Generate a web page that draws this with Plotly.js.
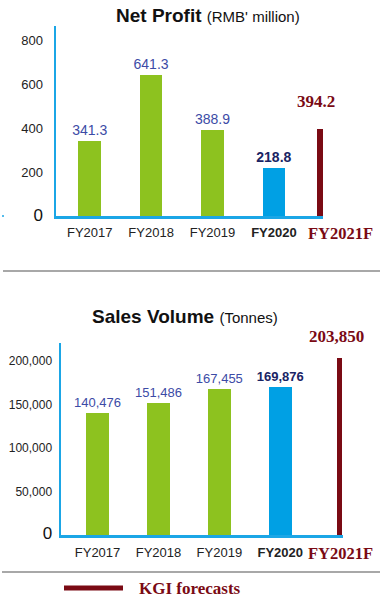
<!DOCTYPE html>
<html>
<head>
<meta charset="utf-8">
<script src="https://cdn.plot.ly/plotly-3.0.1.min.js"></script>
<style>html,body{margin:0;padding:0;background:#fff;}#chart{width:380px;height:607px;}</style>
</head>
<body>
<div id="chart"></div>
<script>
// ---- data ----
var categories = ["FY2017", "FY2018", "FY2019", "FY2020"];
var forecastLabel = "FY2021F";
var netProfit = [341.3, 641.3, 388.9, 218.8];
var netProfitForecast = 394.2;
var salesVolume = [140476, 151486, 167455, 169876];
var salesVolumeForecast = 203850;
var profitTicks = [0, 200, 400, 600, 800];
var volumeTicks = [0, 50000, 100000, 150000, 200000];
var legendText = "KGI forecasts";

// ---- style ----
var GREEN = "#8dc21f", BLUE = "#00a0e4", RED = "#7a0a14", AXIS = "#1ba6e6";
var LBL = "#3c4ba6", LBL_BOLD = "#1a2464";
var SANS = "Liberation Sans, Arial, sans-serif";
var SERIF = "Liberation Serif, Times New Roman, serif";
var W = 380, H = 607;
function px(x) { return x / W; }
function py(y) { return 1 - y / H; }

var xs = categories.map(function (c, i) { return i; });
var highlight = categories.length - 1;
function fmt(v, comma) { return comma ? v.toLocaleString("en-US") : v.toFixed(1); }
function barColors() { return xs.map(function (i) { return i === highlight ? BLUE : GREEN; }); }
function barTexts(vals, comma) {
  return vals.map(function (v, i) { return i === highlight ? "<b>" + fmt(v, comma) + "</b>" : fmt(v, comma); });
}
function textColors() { return xs.map(function (i) { return i === highlight ? LBL_BOLD : LBL; }); }
var tickTexts = categories.map(function (c, i) { return i === highlight ? "<b>" + c + "</b>" : c; });

var topFx = 3.75, botFx = 3.975;

var traces = [
  { type: "bar", x: xs, y: netProfit, width: 0.37, marker: { color: barColors() },
    text: barTexts(netProfit, false), textposition: "outside", cliponaxis: false, constraintext: "none",
    textfont: { family: SANS, size: 14, color: textColors() }, xaxis: "x", yaxis: "y", hoverinfo: "none" },
  { type: "bar", x: [topFx], y: [netProfitForecast], width: 0.085, marker: { color: RED },
    xaxis: "x", yaxis: "y", hoverinfo: "none" },
  { type: "bar", x: xs, y: salesVolume, width: 0.38, marker: { color: barColors() },
    text: barTexts(salesVolume, true), textposition: "outside", cliponaxis: false, constraintext: "none",
    textfont: { family: SANS, size: 13, color: textColors() }, xaxis: "x2", yaxis: "y2", hoverinfo: "none" },
  { type: "bar", x: [botFx], y: [salesVolumeForecast], width: 0.085, marker: { color: RED },
    xaxis: "x2", yaxis: "y2", hoverinfo: "none" }
];

function yTickText(ticks, comma) {
  return ticks.map(function (t) {
    if (t === 0) return "<span style='font-size:17px;color:#111'>0</span>";
    return comma ? t.toLocaleString("en-US") : String(t);
  });
}

var xAxisCommon = { showgrid: false, zeroline: false, showline: true, linecolor: AXIS, linewidth: 2.5,
  ticks: "", tickfont: { family: SANS, size: 13, color: "#222" }, tickvals: xs, ticktext: tickTexts,
  ticklabelstandoff: 3, fixedrange: true };
var yAxisCommon = { showgrid: false, zeroline: false, showline: true, linecolor: AXIS, linewidth: 2.5,
  ticks: "", tickfont: { family: SANS, size: 13, color: "#222" }, fixedrange: true };

var layout = {
  width: W, height: H, margin: { l: 0, r: 0, t: 0, b: 0 },
  paper_bgcolor: "#fff", plot_bgcolor: "#fff", showlegend: false, bargap: 0,
  xaxis: Object.assign({}, xAxisCommon, { domain: [px(56), px(323)], range: [-0.55, 3.8], anchor: "y" }),
  yaxis: Object.assign({}, yAxisCommon, { domain: [py(216), py(26)], range: [0, 864], anchor: "x",
    tickvals: profitTicks, ticktext: yTickText(profitTicks, false), ticklabelstandoff: 8 }),
  xaxis2: Object.assign({}, xAxisCommon, { domain: [px(61), px(343)], range: [-0.6, 4.03], anchor: "y2",
    ticklabelstandoff: 4 }),
  yaxis2: Object.assign({}, yAxisCommon, { domain: [py(535), py(343)], range: [0, 220700], anchor: "x2",
    tickvals: volumeTicks, ticktext: yTickText(volumeTicks, true), tickfont: { family: SANS, size: 12, color: "#222" },
    ticklabelstandoff: 4 }),
  annotations: [
    { xref: "paper", yref: "paper", x: px(208), y: py(16), xanchor: "center", yanchor: "middle", showarrow: false,
      text: "<b>Net Profit</b> <span style='font-size:15px'>(RMB' million)</span>",
      font: { family: SANS, size: 19, color: "#111" } },
    { xref: "paper", yref: "paper", x: px(185), y: py(316), xanchor: "center", yanchor: "middle", showarrow: false,
      text: "<b>Sales Volume</b> <span style='font-size:15px'>(Tonnes)</span>",
      font: { family: SANS, size: 19, color: "#111" } },
    { xref: "x", yref: "y", x: topFx, y: netProfitForecast, xanchor: "center", yanchor: "bottom", yshift: 16, xshift: -4,
      showarrow: false, text: "<b>" + netProfitForecast.toFixed(1) + "</b>", font: { family: SERIF, size: 17, color: RED } },
    { xref: "x2", yref: "y2", x: botFx, y: salesVolumeForecast, xanchor: "center", yanchor: "bottom", yshift: 10, xshift: -3,
      showarrow: false, text: "<b>" + salesVolumeForecast.toLocaleString("en-US") + "</b>", font: { family: SERIF, size: 17, color: RED } },
    { xref: "paper", yref: "paper", x: px(340), y: py(233), xanchor: "center", yanchor: "middle", showarrow: false,
      text: "<b>" + forecastLabel + "</b>", font: { family: SERIF, size: 16.5, color: RED } },
    { xref: "paper", yref: "paper", x: px(340), y: py(553), xanchor: "center", yanchor: "middle", showarrow: false,
      text: "<b>" + forecastLabel + "</b>", font: { family: SERIF, size: 16.5, color: RED } },
    { xref: "paper", yref: "paper", x: px(137), y: py(588), xanchor: "left", yanchor: "middle", showarrow: false,
      text: "<b>" + legendText + "</b>", font: { family: SERIF, size: 17, color: RED } }
  ],
  shapes: [
    { type: "line", xref: "paper", yref: "paper", x0: px(3), x1: 1, y0: py(271), y1: py(271), line: { color: "#a8a8a8", width: 2 } },
    { type: "line", xref: "paper", yref: "paper", x0: px(2), x1: 1, y0: py(572), y1: py(572), line: { color: "#a8a8a8", width: 2 } },
    { type: "line", xref: "paper", yref: "paper", x0: px(64), x1: px(123), y0: py(588), y1: py(588), line: { color: RED, width: 5 } },
    { type: "circle", xref: "paper", yref: "paper", x0: px(2), x1: px(4), y0: py(215), y1: py(217), fillcolor: AXIS, line: { width: 0 } }
  ]
};

Plotly.newPlot("chart", traces, layout, { staticPlot: true, displayModeBar: false });
</script>
</body>
</html>
